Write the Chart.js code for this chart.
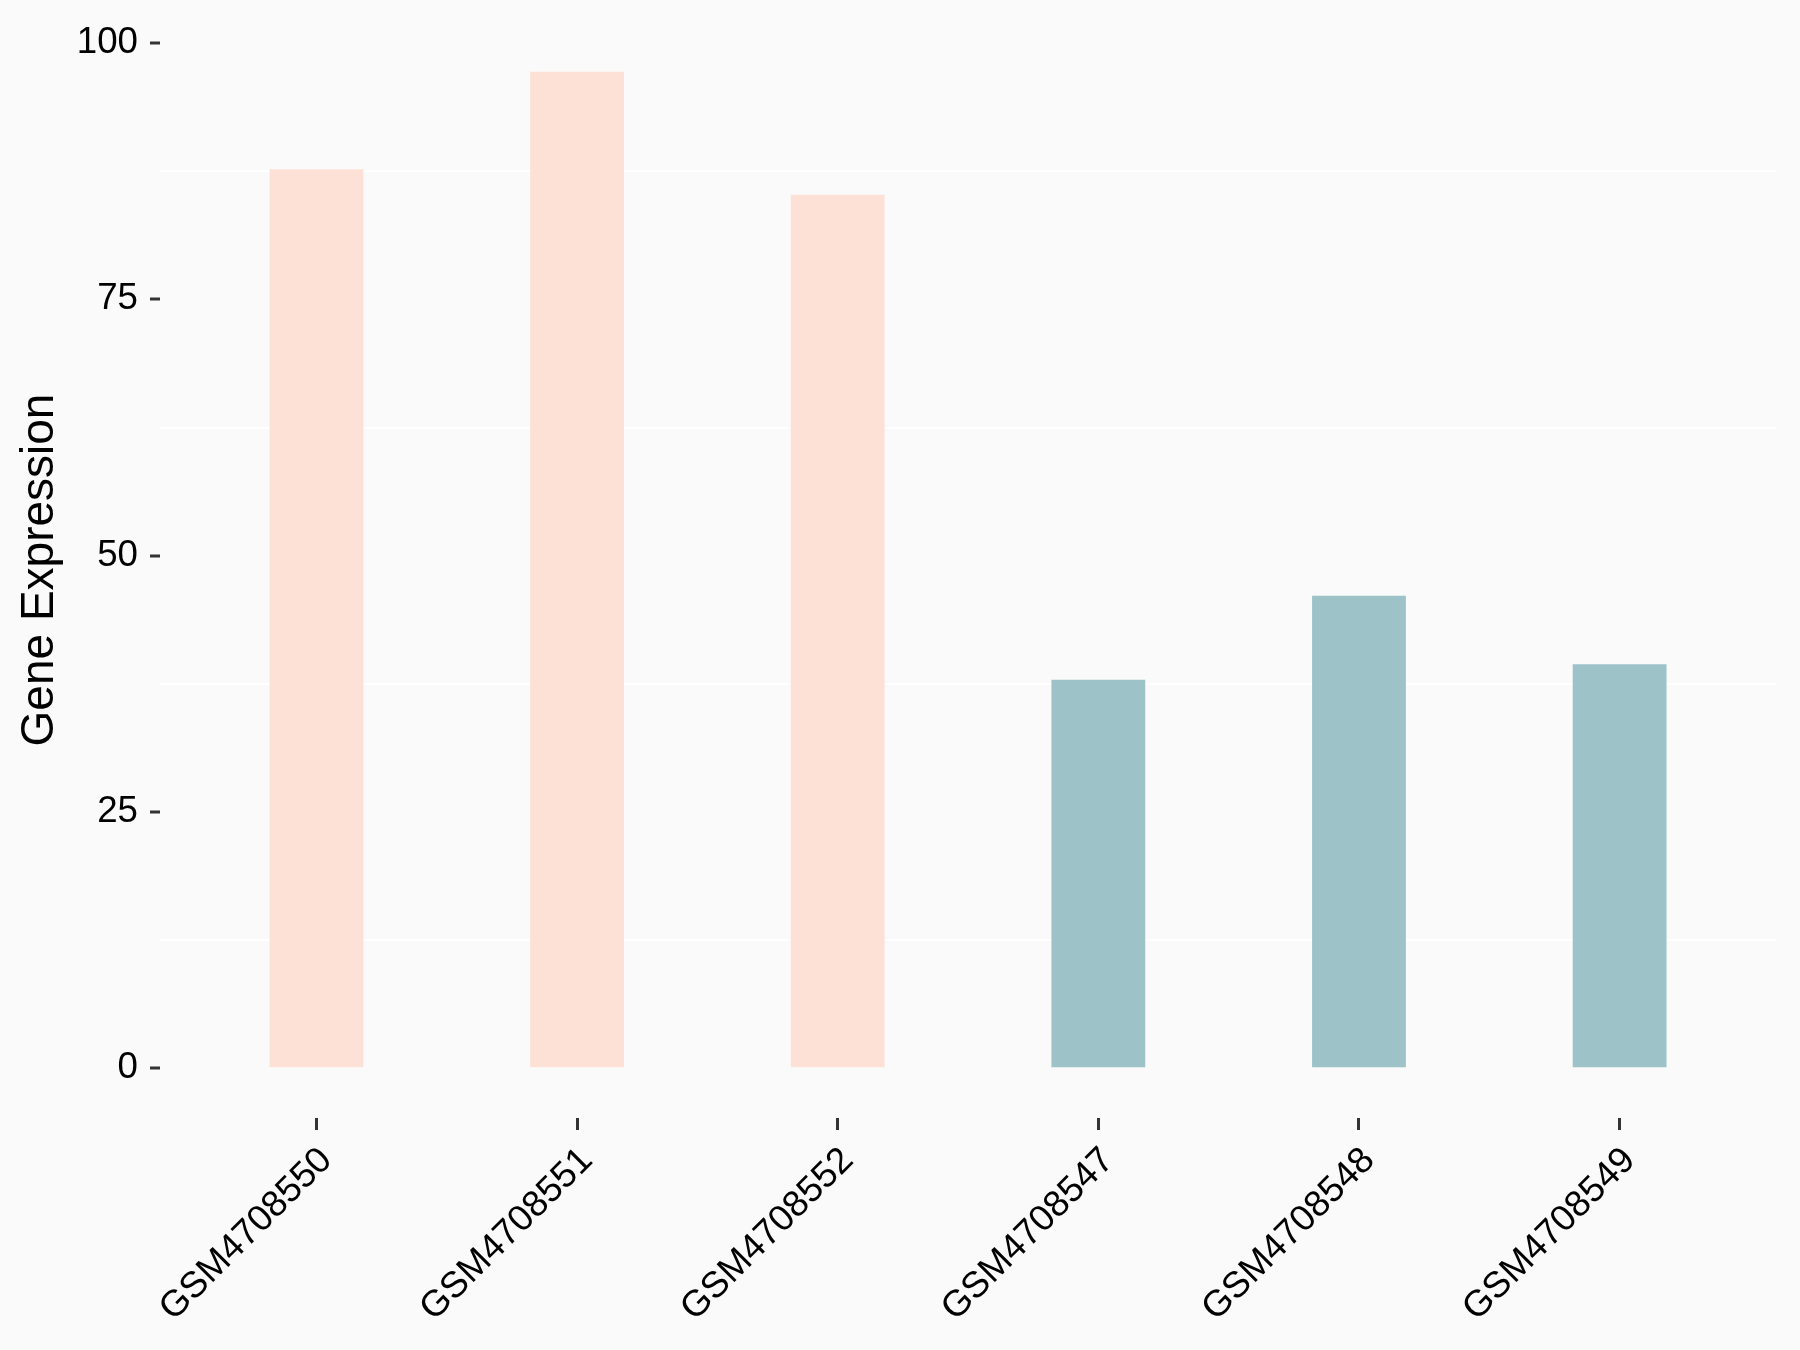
<!DOCTYPE html>
<html>
<head>
<meta charset="utf-8">
<script src="https://cdn.jsdelivr.net/npm/chart.js@4"></script>
<style>
  body { margin: 0; background: #fafafa; }
  canvas { display: block; }
</style>
</head>
<body>
<canvas id="expr-chart" width="1800" height="1350"></canvas>
<script>
// samples and their values
const samples = ['GSM4708550', 'GSM4708551', 'GSM4708552', 'GSM4708547', 'GSM4708548', 'GSM4708549'];
const expression = [87.7, 97.2, 85.2, 37.9, 46.1, 39.4];
const groups = ['A', 'A', 'A', 'B', 'B', 'B'];
const yTicks = [0, 25, 50, 75, 100];
const yMinor = [12.5, 37.5, 62.5, 87.5];

const groupColors = { A: '#fee1d6', B: '#9dc3c8' };

Chart.defaults.font.family = "'Liberation Sans', Arial, sans-serif";
Chart.defaults.color = '#000';

const bgPlugin = {
    id: 'bg',
    beforeDraw: function (chart) {
        const ctx = chart.ctx;
        ctx.save();
        ctx.fillStyle = '#fafafa';
        ctx.fillRect(0, 0, chart.width, chart.height);
        ctx.restore();
    }
};

let points = samples.map(function (s, i) {
    return { x: i + 1, y: expression[i] };
});
let barColors = groups.map(function (g) { return groupColors[g]; });

let ctx = document.getElementById('expr-chart').getContext('2d');
let chart = new Chart(ctx, {
    type: 'bar',
    data: {
        datasets: [{
            data: points,
            backgroundColor: barColors,
            borderWidth: 0,
            barPercentage: 0.36,
            categoryPercentage: 1.0
        }]
    },
    plugins: [bgPlugin],
    options: {
        responsive: false,
        animation: false,
        layout: { padding: { top: 22, right: 24, left: 0, bottom: 0 } },
        plugins: {
            legend: { display: false },
            tooltip: { enabled: false }
        },
        scales: {
            x: {
                type: 'linear',
                min: 0.4,
                max: 6.6,
                offset: false,
                afterFit: function (scale) { scale.height = 232; },
                afterBuildTicks: function (scale) {
                    scale.ticks = samples.map(function (s, i) { return { value: i + 1 }; });
                },
                border: { display: false },
                grid: {
                    offset: false,
                    drawOnChartArea: false,
                    drawTicks: true,
                    tickLength: 12,
                    tickColor: '#333333',
                    tickWidth: 3
                },
                ticks: {
                    autoSkip: false,
                    minRotation: 45,
                    maxRotation: 45,
                    padding: 14.6,
                    showLabelBackdrop: true,
                    backdropColor: 'rgba(0,0,0,0)',
                    font: { size: 36.7, lineHeight: 0.77 },
                    color: '#000',
                    callback: function (v) { return samples[v - 1]; }
                }
            },
            y: {
                min: -4.86,
                max: 102.06,
                afterFit: function (scale) { scale.width = 160; },
                afterBuildTicks: function (scale) {
                    let all = yTicks.concat(yMinor).sort(function (a, b) { return a - b; });
                    scale.ticks = all.map(function (v) { return { value: v }; });
                },
                border: { display: false },
                grid: {
                    lineWidth: 2,
                    color: function (c) {
                        return yTicks.includes(c.tick.value) ? 'rgba(0,0,0,0)' : '#ffffff';
                    },
                    tickColor: function (c) {
                        return yTicks.includes(c.tick.value) ? '#333333' : 'rgba(0,0,0,0)';
                    },
                    tickLength: 10,
                    tickWidth: 3
                },
                ticks: {
                    padding: 12,
                    font: { size: 36.7, lineHeight: 0.5 },
                    color: '#000',
                    callback: function (v) { return yTicks.includes(v) ? v : ''; }
                },
                title: {
                    display: true,
                    text: 'Gene Expression',
                    font: { size: 46, lineHeight: 1.2 },
                    color: '#000',
                    padding: { top: 13, bottom: 0 }
                }
            }
        }
    }
});
</script>
</body>
</html>
